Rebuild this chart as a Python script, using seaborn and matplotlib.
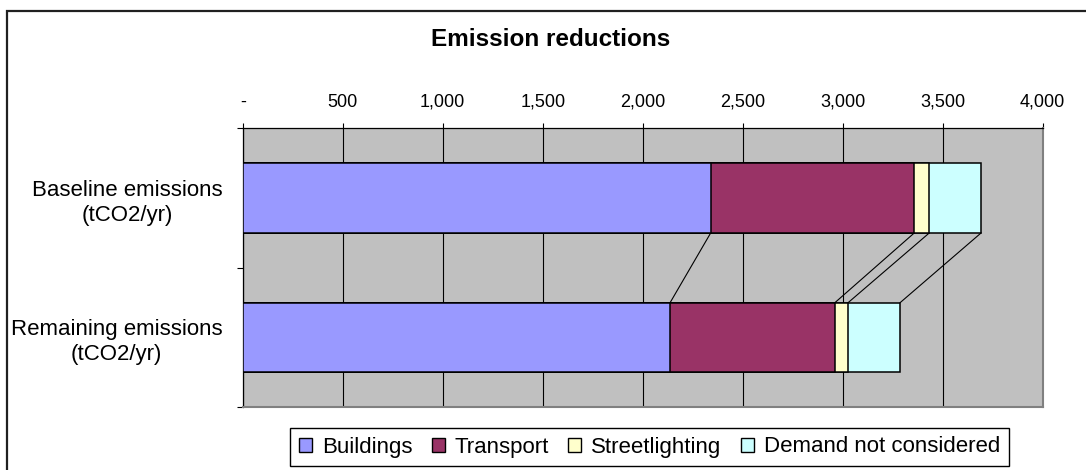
import matplotlib
matplotlib.use("Agg")
import matplotlib.pyplot as plt
from matplotlib.patches import Patch, Rectangle
from matplotlib.ticker import FixedLocator, FuncFormatter
import numpy as np
import pandas as pd
import seaborn as sns

# Emission figures (tCO2/yr) per sector
categories = ["Baseline emissions\n(tCO2/yr)", "Remaining emissions\n(tCO2/yr)"]
series = ["Buildings", "Transport", "Streetlighting", "Demand not considered"]
buildings = [2340, 2137]
transport = [1018, 824]
streetlighting = [75, 66]
demand_not_considered = [259, 260]
colors = ["#9999FF", "#993366", "#FFFFCC", "#CCFFFF"]
x_ticks = [0, 500, 1000, 1500, 2000, 2500, 3000, 3500, 4000]

plt.rcParams["font.family"] = ["Liberation Sans", "DejaVu Sans"]

values = np.array([buildings, transport, streetlighting, demand_not_considered], dtype=float)
cum = np.cumsum(values, axis=0)  # right edge of each stacked segment

W, H = 1086, 470
fig = plt.figure(figsize=(W / 100, H / 100), dpi=100)
ax = fig.add_axes([242.7 / W, 1 - 407.3 / H, 800 / W, 279 / H])
ax.set_facecolor("#C0C0C0")

# Stacked bars: draw the longest cumulative bar first, shorter ones on top
for k in range(len(series) - 1, -1, -1):
    df = pd.DataFrame({"category": categories, "value": cum[k]})
    sns.barplot(data=df, x="value", y="category", orient="h", color=colors[k],
                saturation=1, width=0.5, edgecolor="black", linewidth=1.1,
                ax=ax, zorder=3)

# Series lines linking segment boundaries between the two bars
for k in range(len(series)):
    ax.plot([cum[k][0], cum[k][1]], [0.25, 0.75], color="black", lw=0.8, zorder=2.5)

ax.set_xlim(0, 4000)
ax.set_ylim(1.5, -0.5)
ax.set_xlabel("")
ax.set_ylabel("")

# Value axis on top
ax.xaxis.tick_top()
ax.xaxis.set_major_locator(FixedLocator(x_ticks))
ax.xaxis.set_major_formatter(FuncFormatter(lambda v, p: "-" if v == 0 else f"{int(v):,}"))
ax.tick_params(axis="x", which="major", direction="out", length=3.6, width=0.8,
               pad=9, labelsize=13, color="black")
ax.grid(axis="x", color="black", lw=0.8, zorder=1)
ax.grid(axis="y", visible=False)
ax.set_axisbelow(True)

# Category axis: ticks at band boundaries, labels centred in bands
ax.set_yticks([0, 1])
ax.set_yticklabels(categories, multialignment="center", fontsize=16, linespacing=1.25)
ax.yaxis.set_minor_locator(FixedLocator([-0.5, 0.5, 1.5]))
ax.tick_params(axis="y", which="major", length=0, pad=14.5)
ax.tick_params(axis="y", which="minor", length=4.3, width=0.8, direction="out", color="black")

for side in ["top", "left"]:
    ax.spines[side].set_color("black")
    ax.spines[side].set_linewidth(0.9)
for side in ["right", "bottom"]:
    ax.spines[side].set_color("#808080")
    ax.spines[side].set_linewidth(1.5)
    ax.spines[side].set_visible(True)

fig.text(551 / W, 1 - 39 / H, "Emission reductions", ha="center", va="center",
         fontsize=17.5, fontweight="bold")

handles = [Patch(facecolor=c, edgecolor="black", lw=1) for c in colors]
leg = fig.legend(handles, series, loc="center", ncol=4,
                 bbox_to_anchor=(649.5 / W, 1 - 447 / H), fontsize=16,
                 frameon=True, fancybox=False, edgecolor="black", framealpha=1,
                 handlelength=0.6, handleheight=0.6, handletextpad=0.45,
                 columnspacing=0.85, borderpad=0.4, borderaxespad=0)
leg.get_frame().set_linewidth(1.0)

# Chart-area border
fig.add_artist(Rectangle((6.5 / W, -0.1), 1.2, 1 - 11 / H + 0.1, transform=fig.transFigure,
                         fill=False, edgecolor="#202020", lw=1.6))

fig.savefig("out.png", dpi=100)
